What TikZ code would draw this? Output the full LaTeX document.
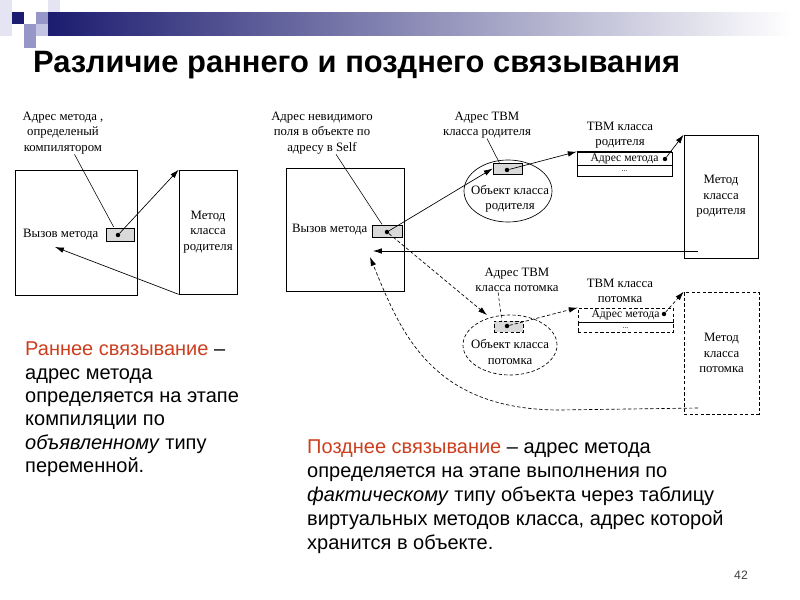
\documentclass[tikz,border=0pt]{standalone}
\usepackage{fontspec}
\setmainfont{Liberation Sans}
\newfontfamily\esquema{Liberation Serif}
\usepackage{xcolor}
\usetikzlibrary{arrows.meta,positioning,shapes.geometric}
\definecolor{azul}{RGB}{28,28,112}
\definecolor{lila}{RGB}{150,150,200}
\definecolor{lilaclaro}{RGB}{195,195,228}
\definecolor{palido}{RGB}{228,228,242}
\definecolor{naranja}{RGB}{204,62,30}

\begin{document}
\begin{tikzpicture}[x=0.9pt,y=-0.9pt]
\tikzset{
    caja/.style={rectangle, draw=black, line width=0.6pt, inner sep=0pt, align=center,
                 font=\esquema\fontsize{11.5}{14}\selectfont},
    celda/.style={rectangle, draw=black, line width=0.6pt, inner sep=0pt, minimum width=85.5pt,
                  font=\esquema\fontsize{10.5}{11}\selectfont},
    gris/.style={rectangle, draw=black, line width=0.6pt, fill=black!15, inner sep=0pt},
    ovalo/.style={ellipse, draw=black, line width=0.6pt, inner sep=0pt},
    etiqueta/.style={align=center, inner sep=0pt, font=\esquema\fontsize{11.5}{14}\selectfont},
    punto/.style={circle, fill=black, inner sep=0pt, minimum size=4pt},
    flecha/.style={-{Latex[length=8pt,width=5pt]}, line width=0.6pt},
    linea/.style={line width=0.5pt},
    discont/.style={dash pattern=on 3pt off 2pt},
    parrafo/.style={align=left, inner sep=0pt, anchor=north west, font=\fontsize{18}{21}\selectfont}
}
\useasboundingbox (0,0) rectangle (800,600);

% cabecera
\shade[left color=azul, right color=white] (48,12) rectangle (792,35);
\foreach \i/\j/\c in {0/0/palido, 4/0/palido, 0/1/palido, 1/1/azul, 3/1/lila,
                      0/2/palido, 2/2/lila, 3/2/lilaclaro, 2/3/lila}
    \fill[\c] (\i*12,\j*12) rectangle ++(12,12);
\node[anchor=base west, inner sep=0pt, font=\bfseries\fontsize{27.8}{30}\selectfont] (titulo) at (33,72)
    {Различие раннего и позднего связывания};

% enlace temprano
\node[etiqueta] (etqComp) at (63,133) {Адрес метода ,\\определеный\\компилятором};
\node[caja, minimum width=109.8pt, minimum height=112.5pt] (llamada1) at (76,232.5) {};
\node[etiqueta, anchor=west] (txt1) at (23,235) {Вызов метода};
\node[gris, minimum width=25.2pt, minimum height=11.7pt] (dir1) at (120,234.5) {};
\node[punto] (p1) at (118,235) {};
\node[caja, minimum width=52.2pt, minimum height=111.6pt] (metodo1) at (208,232) {Метод\\класса\\родителя};
\coordinate (llegada1) at (55,247);
\draw[linea, shorten >=6pt] (etqComp) -- (p1);
\draw[flecha] (p1) -- (metodo1.north west);
\draw[flecha] (metodo1.south west) -- (llegada1);

% enlace tardio
\node[etiqueta] (etqSelf) at (322,133) {Адрес невидимого\\поля в объекте по\\адресу в Self};
\node[caja, minimum width=106.2pt, minimum height=110.7pt] (llamada2) at (345,229.5) {};
\node[etiqueta, anchor=west] (txt2) at (292,230) {Вызов метода};
\node[gris, minimum width=27pt, minimum height=10.8pt] (dir2) at (387,231) {};
\node[punto] (p2) at (387,232) {};
\coordinate (llegadaP) at (373,251);
\coordinate (llegadaH) at (370,257);
\draw[linea, shorten >=6pt] (etqSelf) -- (p2);

% objeto padre
\node[etiqueta] (etqTP) at (487,125) {Адрес ТВМ\\класса родителя};
\node[ovalo, minimum width=79.2pt, minimum height=55.8pt] (objP) at (508,191) {};
\node[gris, minimum width=26.1pt, minimum height=9.9pt] (dirP) at (507.5,168.5) {};
\node[punto] (pP) at (507,170) {};
\node[etiqueta] (txtObjP) at (510,199) {Объект класса\\родителя};
\node[celda, minimum height=11.7pt] (filaP1) at (624.5,158.5) {Адрес метода\hspace{7pt}};
\node[celda, minimum height=9.9pt, below=0pt of filaP1, font=\esquema\fontsize{7}{7}\selectfont] (filaP2) {...};
\draw[line width=1.5pt] (filaP1.north west) -- (filaP1.north east);
\node[punto] (pTP) at (665,159) {};
\node[etiqueta] (etqTablaP) at (620,135) {ТВМ класса\\родителя};
\node[caja, minimum width=66.6pt, minimum height=110.7pt] (metodo2) at (721,196.5) {Метод\\класса\\родителя};
\coordinate (retP) at (698,251);
\draw[linea] (etqTP.south) -- ([xshift=6pt]dirP.north west);
\draw[flecha] (p2) -- (dirP.west);
\draw[flecha] (pP) -- (filaP1.north west);
\draw[flecha] (pTP) -- (metodo2.north west);
\draw[flecha] (retP) -- (llegadaP);

% objeto hijo
\node[etiqueta] (etqTH) at (517,280) {Адрес ТВМ\\класса потомка};
\node[ovalo, discont, minimum width=84.6pt, minimum height=54pt] (objH) at (510,345) {};
\node[gris, discont, minimum width=26.1pt, minimum height=9.9pt] (dirH) at (508.5,326.5) {};
\node[punto] (pH) at (507,326) {};
\node[etiqueta] (txtObjH) at (510,352) {Объект класса\\потомка};
\node[celda, discont, minimum height=12.6pt] (filaH1) at (625.5,315) {Адрес метода\hspace{7pt}};
\node[celda, discont, minimum height=9pt, below=0pt of filaH1, font=\esquema\fontsize{7}{7}\selectfont] (filaH2) {...};
\node[punto] (pTH) at (664,314) {};
\node[etiqueta] (etqTablaH) at (620,291) {ТВМ класса\\потомка};
\node[caja, discont, minimum width=67.5pt, minimum height=109.8pt] (metodoH) at (721.5,353) {Метод\\класса\\потомка};
\coordinate (retH) at (698,408);
\draw[linea, discont] ([xshift=-17pt]etqTH.south) -- ([xshift=-6pt]dirH.north);
\draw[flecha, discont] (p2) -- ([shift={(-6pt,5pt)}]dirH.north west);
\draw[flecha, discont] (pH) -- (filaH1.north west);
\draw[flecha, discont] (pTH) -- (metodoH.north west);
\draw[flecha, discont] (retH) -- (560,410) .. controls (430,410) and (400,330) .. (llegadaH);

% textos
\node[parrafo] (temprano) at (25,342) {\textcolor{naranja}{Раннее связывание} –\\адрес метода\\определяется на этапе\\компиляции по\\\textit{объявленному} типу\\переменной.};
\node[parrafo, font=\fontsize{18}{21.5}\selectfont] (tardio) at (307,440) {\textcolor{naranja}{Позднее связывание} – адрес метода\\определяется на этапе выполнения по\\\textit{фактическому} типу объекта через таблицу\\виртуальных методов класса, адрес которой\\хранится в объекте.};
\node[font=\fontsize{11}{13}\selectfont, text=black!75] (pagina) at (741,575) {42};
\end{tikzpicture}
\end{document}
